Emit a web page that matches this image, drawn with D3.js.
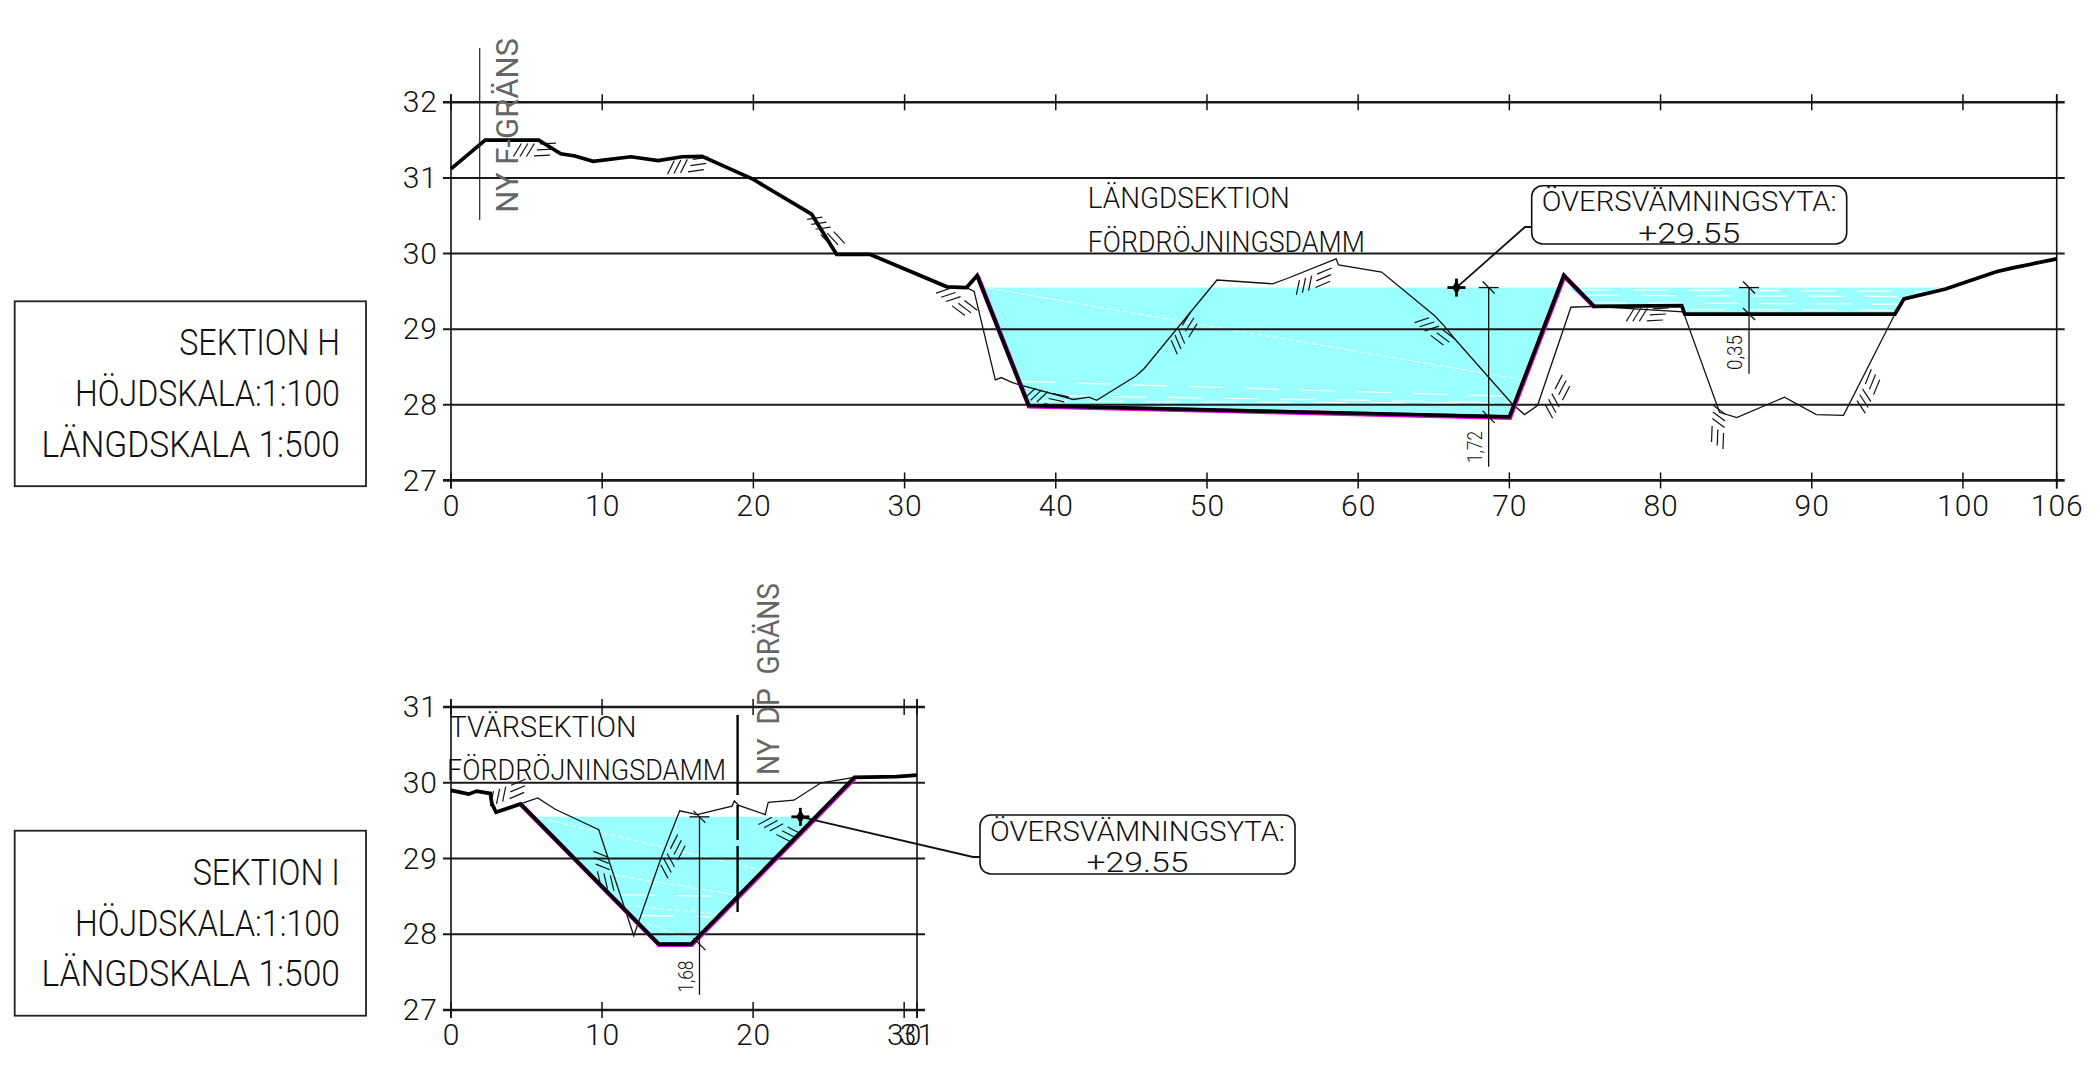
<!DOCTYPE html>
<html>
<head>
<meta charset="utf-8">
<title>Sektion H och I</title>
<script src="https://d3js.org/d3.v7.min.js"></script>
<style>
  html, body { margin: 0; padding: 0; background: #fff; }
  svg { display: block; }
  text { font-family: Roboto, sans-serif; font-weight: 300; fill: #111; }
</style>
</head>
<body>
<svg id="chart" width="2098" height="1079"></svg>
<script>
// section H (long section)
var hXTicks = [0, 10, 20, 30, 40, 50, 60, 70, 80, 90, 100, 106.2];
var hYTicks = [27, 28, 29, 30, 31, 32];
var hNewX = [0, 2.26, 5.8, 7.26, 8.2, 9.4, 11.9, 13.7, 15.3, 16.6, 20, 23.85, 25.5, 27.7, 32.8, 34.1, 34.8, 38.2, 70, 73.6, 75.6, 81.4, 81.6, 95.5, 96.1, 98.85, 102.2, 103.3, 106.2];
var hNewY = [31.12, 31.5, 31.5, 31.32, 31.29, 31.22, 31.28, 31.23, 31.28, 31.285, 30.98, 30.52, 29.99, 29.99, 29.56, 29.55, 29.71, 27.99, 27.84, 29.71, 29.3, 29.31, 29.2, 29.2, 29.4, 29.53, 29.76, 29.81, 29.93];
var hGroundX = [34.1, 34.6, 36, 36.4, 37.06, 37.5, 41.16, 42.2, 42.7, 45.3, 45.85, 50.66, 54.33, 55.3, 58.54, 58.7, 61.55, 65.1, 65.7, 66.35, 70.15, 71, 71.86, 74.07, 75.6, 81.5, 83.9, 85.04, 88.2, 90.3, 92.1, 95.5];
var hGroundY = [29.55, 29.5, 28.33, 28.36, 28.3, 28.27, 28.07, 28.1, 28.06, 28.38, 28.48, 29.65, 29.6, 29.67, 29.93, 29.85, 29.755, 29.17, 29.04, 28.88, 28.02, 27.87, 27.99, 29.29, 29.3, 29.23, 27.9, 27.83, 28.1, 27.87, 27.86, 29.2];
var hDamX = [34.8, 38.2, 70, 73.6, 75.6];
var hDamY = [29.71, 27.99, 27.84, 29.71, 29.3];
var hPondX = [35.3, 38.2, 70, 73.3];
var hPondY = [29.55, 27.99, 27.84, 29.55];
var hPond2X = [73.9, 75.6, 81.4, 81.6, 95.5, 96.1, 98.5];
var hPond2Y = [29.55, 29.3, 29.31, 29.2, 29.2, 29.4, 29.55];
var hSlopeX = [5.55, 15.7, 24.8, 33.45, 39.4, 48.5, 57.1, 65.1, 73.2, 79.16, 83.8, 93.76];
var hSlopeY = [31.37, 31.16, 30.29, 29.36, 28.09, 28.95, 29.63, 28.97, 28.11, 29.19, 27.7, 28.18];
var hSlopeAngle = [0, -5, 50, 40, 15, -55, -20, 40, -60, 0, 95, -65];

// section I (cross section)
var iXTicks = [0, 10, 20, 30, 30.85];
var iYTicks = [27, 28, 29, 30, 31];
var iNewX = [0, 0.5, 1.17, 1.7, 2.27, 2.6, 2.7, 2.98, 4.6, 13.75, 15.9, 26.7, 29.5, 30.85];
var iNewY = [29.9, 29.88, 29.85, 29.89, 29.87, 29.86, 29.73, 29.61, 29.72, 27.87, 27.87, 30.07, 30.08, 30.1];
var iGroundX = [4.6, 5.74, 6.9, 9.78, 12.1, 13.86, 15.14, 16.3, 18.6, 18.76, 19.05, 20.8, 21, 22.7, 24.5, 26.7];
var iGroundY = [29.72, 29.8, 29.65, 29.38, 27.98, 28.98, 29.63, 29.58, 29.69, 29.76, 29.7, 29.58, 29.74, 29.77, 30, 30.07];
var iDamX = [4.6, 13.75, 15.9, 26.7];
var iDamY = [29.72, 27.87, 27.87, 30.07];
var iPondX = [5.6, 13.75, 15.9, 24.15];
var iPondY = [29.55, 27.87, 27.87, 29.55];
var iSlopeX = [3.8, 10.1, 14.7, 21.8];
var iSlopeY = [29.87, 28.83, 29.03, 29.38];
var iSlopeAngle = [-20, 80, -60, 30];

var svg = d3.select("#chart");

// plain or rotated text, squeezed to the width it has in the drawing
function label(x, y, str, size, len, rot, color) {
  var t = svg.append("text")
    .attr("font-size", size)
    .attr("textLength", len)
    .attr("lengthAdjust", "spacingAndGlyphs")
    .text(str);
  if (rot) t.attr("transform", "translate(" + x + "," + y + ") rotate(" + rot + ")");
  else t.attr("x", x).attr("y", y);
  if (color) t.style("fill", color);
  return t;
}

function seg(g, x1, y1, x2, y2, w, col) {
  return g.append("line")
    .attr("x1", x1).attr("y1", y1).attr("x2", x2).attr("y2", y2)
    .attr("stroke", col || "#111").attr("stroke-width", w);
}

function zipPts(xs, ys) { return xs.map(function(v, i) { return [v, ys[i]]; }); }

function drawSection(o) {
  var x = d3.scaleLinear().domain(o.xDomain).range(o.xRange);
  var y = d3.scaleLinear().domain(o.yDomain).range(o.yRange);
  var g = svg.append("g");
  var line = d3.line().x(function(d) { return x(d[0]); }).y(function(d) { return y(d[1]); });

  // water, with the dashed and the glinting white streaks in it
  o.ponds.forEach(function(p) {
    g.append("path").attr("d", line(p) + "Z").attr("fill", "#99ffff");
  });
  o.streaks.forEach(function(s) {
    seg(g, x(s[0]), y(s[1]), x(s[2]), y(s[3]), 1, "#fff").attr("stroke-dasharray", "5 3");
  });
  o.glints.forEach(function(s) {
    seg(g, x(s[0]), y(s[1]), x(s[2]), y(s[3]), 1.2, "#fff").attr("stroke-dasharray", "34 22");
  });

  // grid
  g.selectAll("line.grid").data(o.yTicks).enter().append("line")
    .attr("class", "grid")
    .attr("x1", o.xRange[0] - 8).attr("x2", o.xRange[1] + 8)
    .attr("y1", function(d) { return y(d); }).attr("y2", function(d) { return y(d); })
    .attr("stroke", "#1a1a1a")
    .attr("stroke-width", function(d, i) { return i === 0 || i === o.yTicks.length - 1 ? 2.6 : 2; });
  [o.xRange[0], o.xRange[1]].forEach(function(px) {
    seg(g, px, o.yRange[1] - 8, px, o.yRange[0] + 8, 1.6);
  });
  o.xTicks.forEach(function(v) {
    seg(g, x(v), o.yRange[1] - 8, x(v), o.yRange[1] + 8, 1.5);
    seg(g, x(v), o.yRange[0] - 8, x(v), o.yRange[0] + 8, 1.5);
  });

  // axes, only for the numbers
  var fs = 30;
  var ax = g.append("g").attr("transform", "translate(0," + o.yRange[0] + ")")
    .call(d3.axisBottom(x).tickValues(o.xTicks).tickFormat(d3.format(".0f")).tickSize(0).tickPadding(14));
  var ay = g.append("g").attr("transform", "translate(" + o.xRange[0] + ",0)")
    .call(d3.axisLeft(y).tickValues(o.yTicks).tickFormat(d3.format("d")).tickSize(0).tickPadding(13));
  [ax, ay].forEach(function(a) {
    a.select(".domain").remove();
    a.selectAll("text").attr("font-size", fs).style("font-family", "Roboto, sans-serif").style("font-weight", 300).style("letter-spacing", "1px").attr("fill", "#111");
  });

  // existing ground, then the new surface over a magenta edge along the dam
  g.append("path").attr("d", line(o.ground)).attr("fill", "none").attr("stroke", "#111").attr("stroke-width", 1.3);
  g.append("path").attr("d", line(o.dam)).attr("fill", "none").attr("stroke", "#e000e0").attr("stroke-width", 4.6)
    .attr("transform", "translate(0.5,0.7)");
  g.append("path").attr("d", line(o.surface)).attr("fill", "none").attr("stroke", "#000").attr("stroke-width", 3.7);

  // slope symbols
  o.slopes.forEach(function(s) {
    var h = g.append("g").attr("transform", "translate(" + x(s[0]) + "," + y(s[1]) + ") rotate(" + s[2] + ")");
    [-1, 0, 1].forEach(function(i) {
      seg(h, -11 + i * 6.5 - 4, 6.5, -11 + i * 6.5 + 4, -6.5, 1.2);
      seg(h, 2 - i * 3, i * 6, 18 - i * 3, i * 6 - 0.8, 1.2);
    });
  });

  // level marker and leader
  var mx = x(o.marker[0]), my = y(o.marker[1]);
  g.append("path").attr("d", d3.line()([[mx, my], o.leader, [o.box[0], o.leader[1]]])).attr("fill", "none").attr("stroke", "#111").attr("stroke-width", 1.8);
  seg(g, mx - 9, my, mx + 9, my, 2.8, "#000");
  seg(g, mx, my - 9, mx, my + 9, 2.8, "#000");
  g.append("path").attr("transform", "translate(" + mx + "," + my + ")").attr("d", d3.symbol().type(d3.symbolDiamond).size(60)()).attr("fill", "#000");

  // depth dimensions
  o.dims.forEach(function(d) {
    var dx = x(d.x);
    seg(g, dx, y(d.from), dx, y(d.to), 1.3);
    seg(g, dx - 10, y(d.from), dx + 10, y(d.from), 1.3);
    [d.from, d.tick].forEach(function(v) {
      seg(g, dx - 6, y(v) - 6, dx + 6, y(v) + 6, 1.3);
    });
    label(dx - 6.6, y(d.textAt), d.text, 21, d.len, -90);
  });

  // callout box
  g.append("rect")
    .attr("x", o.box[0]).attr("y", o.box[1]).attr("width", o.box[2]).attr("height", o.box[3])
    .attr("rx", 11).attr("ry", 11).attr("fill", "#fff").attr("stroke", "#111").attr("stroke-width", 1.6);
  label(o.box[0] + 10, o.box[1] + 25.6, "ÖVERSVÄMNINGSYTA:", 28, 295);
  label(o.box[0] + 106.5, o.box[1] + 56.8, "+29.55", 28, 102);
}

drawSection({
  xDomain: [0, 106.2], xRange: [451, 2056.7],
  yDomain: [27, 32], yRange: [480.4, 102.3],
  xTicks: hXTicks, yTicks: hYTicks,
  surface: zipPts(hNewX, hNewY), ground: zipPts(hGroundX, hGroundY), dam: zipPts(hDamX, hDamY),
  ponds: [zipPts(hPondX, hPondY), zipPts(hPond2X, hPond2Y)],
  streaks: [[35.57, 29.54, 70.6, 28.34]],
  glints: [[37.7, 28.31, 70.1, 28.11], [40, 28.12, 70, 28.03], [38.5, 28.05, 69, 28.02],
           [74.5, 29.52, 97.5, 29.5], [75, 29.45, 96.5, 29.43], [75.5, 29.35, 96.2, 29.33], [82, 29.26, 95.6, 29.25]],
  slopes: zipPts(hSlopeX, hSlopeY).map(function(p, i) { return [p[0], p[1], hSlopeAngle[i]]; }),
  marker: [66.5, 29.55], leader: [1525, 227], box: [1531.7, 185.7, 315, 58.3],
  dims: [{x: 68.63, from: 29.55, to: 27.18, tick: 27.84, text: "1,72", textAt: 27.23, len: 32},
         {x: 85.85, from: 29.55, to: 28.41, tick: 29.2, text: "0,35", textAt: 28.46, len: 35}]
});

drawSection({
  xDomain: [0, 30.85], xRange: [451, 917],
  yDomain: [27, 31], yRange: [1010, 707],
  xTicks: iXTicks, yTicks: iYTicks,
  surface: zipPts(iNewX, iNewY), ground: zipPts(iGroundX, iGroundY), dam: zipPts(iDamX, iDamY),
  ponds: [zipPts(iPondX, iPondY)],
  streaks: [[5.9, 29.53, 20.5, 28.85], [10.8, 28.78, 18.9, 28.52], [11.65, 28.38, 17.6, 28.27], [13, 28.14, 16, 27.92]],
  glints: [[11.3, 28.52, 18.7, 28.5], [12.5, 28.25, 17.2, 28.23]],
  slopes: zipPts(iSlopeX, iSlopeY).map(function(p, i) { return [p[0], p[1], iSlopeAngle[i]]; }),
  marker: [23.13, 29.55], leader: [973, 857], box: [980, 815, 315, 59],
  dims: [{x: 16.45, from: 29.55, to: 27.2, tick: 27.87, text: "1,68", textAt: 27.23, len: 32}]
});

// boundary lines
svg.append("line").attr("x1", 479.7).attr("x2", 479.7).attr("y1", 48).attr("y2", 220).attr("stroke", "#222").attr("stroke-width", 1.2);
svg.append("line").attr("x1", 737.6).attr("x2", 737.6).attr("y1", 715).attr("y2", 912).attr("stroke", "#000").attr("stroke-width", 2.4).attr("stroke-dasharray", "80 10 35 6 66");
label(518.3, 212.7, "NY F-GRÄNS", 32, 174.7, -90, "#666").style("font-weight", 400);
label(779, 775, "NY  DP  GRÄNS", 32, 192, -90, "#666").style("font-weight", 400).style("white-space", "pre");

// titles
label(1087.8, 207.6, "LÄNGDSEKTION", 30, 202);
label(1087.8, 252, "FÖRDRÖJNINGSDAMM", 30, 277);
label(449.6, 736.7, "TVÄRSEKTION", 30, 187);
label(447, 780, "FÖRDRÖJNINGSDAMM", 30, 279);

// scale boxes
function scaleBox(top, h, title, titleLeft, b1, b2, b3) {
  svg.append("rect").attr("x", 14.7).attr("y", top).attr("width", 351.3).attr("height", h)
    .attr("fill", "none").attr("stroke", "#222").attr("stroke-width", 1.8);
  label(titleLeft, b1, title, 36, 339.9 - titleLeft);
  label(75, b2, "HÖJDSKALA:1:100", 36, 264.9);
  label(41.5, b3, "LÄNGDSKALA 1:500", 36, 298.4);
}
scaleBox(301.3, 184.9, "SEKTION H", 179.3, 355.4, 406.3, 457.3);
scaleBox(830.7, 185, "SEKTION I", 192.7, 885, 935.7, 986);
</script>
</body>
</html>
